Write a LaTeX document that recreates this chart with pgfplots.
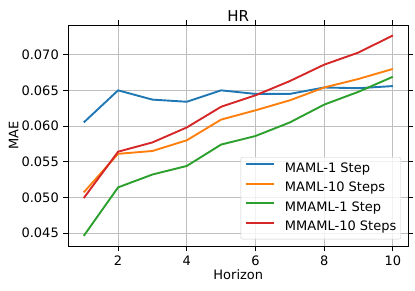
\documentclass[border=0pt]{standalone}
\usepackage{pgfplots}
\pgfplotsset{compat=1.18}
\usepackage{fontspec}
\setmainfont{DejaVu Sans}
\definecolor{tabblue}{HTML}{1F77B4}
\definecolor{taborange}{HTML}{FF7F0E}
\definecolor{tabgreen}{HTML}{2CA02C}
\definecolor{tabred}{HTML}{D62728}
\begin{document}
\begin{tikzpicture}
\begin{axis}[
  name=ax,
  scale only axis,
  width=340bp, height=221bp,
  xmin=0.55, xmax=10.45,
  ymin=0.04318, ymax=0.07416,
  xtick={2,4,6,8,10},
  ytick={0.045,0.050,0.055,0.060,0.065,0.070},
  /pgf/number format/assume math mode=true,
  yticklabel style={/pgf/number format/fixed, /pgf/number format/fixed zerofill, /pgf/number format/precision=3},
  scaled y ticks=false,
  tick align=outside,
  major tick length=5bp,
  tick style={black, line width=0.9bp},
  axis line style={black, line width=0.9bp},
  grid=major,
  grid style={color=black!25, line width=1bp},
  xticklabel style={font=\fontsize{13bp}{15bp}\selectfont, anchor=north, yshift=-1bp},
  yticklabel style={font=\fontsize{13bp}{15bp}\selectfont, anchor=east, xshift=-1bp},
  title={HR},
  title style={font=\fontsize{15bp}{17bp}\selectfont, at={(axis description cs:0.5,1)}, anchor=base, yshift=-2bp},
  xlabel={Horizon},
  xlabel style={font=\fontsize{13bp}{15bp}\selectfont, at={(axis description cs:0.5,0)}, anchor=base, yshift=-33.3bp},
  ylabel={MAE},
  ylabel style={font=\fontsize{13bp}{15bp}\selectfont, at={(axis description cs:-0.147,0.5)}, anchor=base},
  legend style={at={(0.9785,0.0303)}, anchor=south east, font=\fontsize{13bp}{15bp}\selectfont, draw=black!20, rounded corners=2bp, fill=white, fill opacity=0.8, text opacity=1, row sep=6.9bp, column sep=10bp, inner xsep=4.5bp, inner ysep=5.6bp,
    nodes={inner sep=0pt, text height=9.5bp, text depth=3bp}},
  legend cell align=left,
  legend image code/.code={\draw[#1] (0bp,4.7bp) -- (27.7bp,4.7bp);},
  every axis plot/.append style={line width=1.9bp},
]
\addplot[tabblue] coordinates {(1,0.0605)(2,0.0650)(3,0.0637)(4,0.0634)(5,0.0650)(6,0.0645)(7,0.0645)(8,0.0654)(9,0.0653)(10,0.0656)};
\addlegendentry{MAML-1 Step}
\addplot[taborange] coordinates {(1,0.0507)(2,0.0561)(3,0.0565)(4,0.0580)(5,0.0609)(6,0.0622)(7,0.0636)(8,0.0654)(9,0.0666)(10,0.0680)};
\addlegendentry{MAML-10 Steps}
\addplot[tabgreen] coordinates {(1,0.0446)(2,0.0514)(3,0.0532)(4,0.0544)(5,0.0574)(6,0.0586)(7,0.0605)(8,0.0630)(9,0.0648)(10,0.0669)};
\addlegendentry{MMAML-1 Step}
\addplot[tabred] coordinates {(1,0.0499)(2,0.0564)(3,0.0577)(4,0.0598)(5,0.0627)(6,0.0643)(7,0.0663)(8,0.0686)(9,0.0703)(10,0.0727)};
\addlegendentry{MMAML-10 Steps}
\end{axis}
\pgfresetboundingbox
\path ([xshift=-68.3bp,yshift=-44bp]ax.south west) rectangle ([xshift=6.7bp,yshift=25bp]ax.north east);
\end{tikzpicture}
\end{document}
